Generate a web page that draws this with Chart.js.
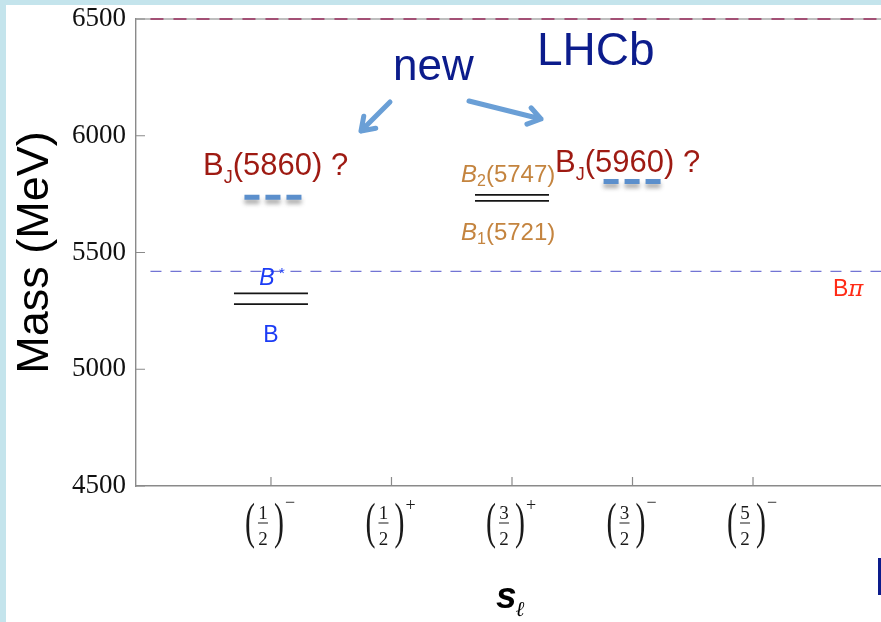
<!DOCTYPE html>
<html>
<head>
<meta charset="utf-8">
<script src="https://cdn.jsdelivr.net/npm/chart.js@4.4.1/dist/chart.umd.min.js"></script>
<style>
  html, body { margin: 0; padding: 0; background: #fff; }
  #wrap { width: 881px; height: 622px; }
</style>
</head>
<body>
<div id="wrap"><canvas id="levels"></canvas></div>
<script>
// light-quark spin-parity columns
const spinPos = [1, 2, 3, 4, 5];
const spinNum = ["1", "1", "3", "3", "5"];
const spinDen = ["2", "2", "2", "2", "2"];
const spinParity = ["−", "+", "+", "−", "−"];

// established B levels (MeV)
const levelNames = ["B", "B*", "B1(5721)", "B2(5747)"];
const levelPos = [1, 1, 3, 3];
const levelMass = [5279, 5325, 5721, 5747];

// new candidate states, shown as dashes
const newNames = ["BJ(5860)", "BJ(5960)"];
const newPos = [1.02, 4];
const newMass = [5737, 5804];

// thresholds (MeV)
const bpiMass = 5419;
const topMass = 6500;

const massMin = 4500;
const massMax = 6500;
const massStep = 500;

const LEVEL_HALF = 0.307;
const NEW_HALF = 0.24;
const X_MIN = -0.12;
const X_MAX = 6.062;

function segment(x0, x1, y) {
  return [{ x: x0, y: y }, { x: x1, y: y }];
}

const datasets = [];

levelMass.forEach((m, i) => {
  datasets.push({
    label: levelNames[i],
    data: segment(levelPos[i] - LEVEL_HALF, levelPos[i] + LEVEL_HALF, m),
    borderColor: "#151515",
    borderWidth: 1.6
  });
});

newMass.forEach((m, i) => {
  datasets.push({
    label: newNames[i],
    data: segment(newPos[i] - NEW_HALF, newPos[i] + NEW_HALF, m),
    borderColor: "#5b8fcc",
    borderWidth: 5,
    borderDash: [15, 6],
    shadow: true
  });
});

datasets.push({
  label: "Bπ",
  data: segment(0, X_MAX, bpiMass),
  borderColor: "#7274d4",
  borderWidth: 1.3,
  borderDash: [11, 9]
});

datasets.push({
  label: "top",
  data: segment(0, X_MAX, topMass),
  borderColor: "#9b2c5e",
  borderWidth: 1.6,
  borderDash: [13, 10]
});

datasets.forEach(d => {
  d.showLine = true;
  d.pointRadius = 0;
  d.clip = false;
});

// soft drop shadow under the dashed candidate levels
const dashShadow = {
  id: "dashShadow",
  beforeDatasetDraw(chart, args) {
    if (!chart.data.datasets[args.index].shadow) return;
    const ctx = chart.ctx;
    ctx.save();
    ctx.shadowColor = "rgba(60,60,60,0.45)";
    ctx.shadowBlur = 4;
    ctx.shadowOffsetY = 4;
  },
  afterDatasetDraw(chart, args) {
    if (!chart.data.datasets[args.index].shadow) return;
    chart.ctx.restore();
  }
};

function richText(ctx, parts, x, y, color) {
  ctx.fillStyle = color;
  ctx.textAlign = "left";
  ctx.textBaseline = "alphabetic";
  let cx = x;
  parts.forEach(p => {
    ctx.font = p.font;
    ctx.fillText(p.text, cx, y + (p.dy || 0));
    cx += ctx.measureText(p.text).width + (p.gap || 0);
  });
}

function arrow(ctx, x0, y0, x1, y1) {
  const a = Math.atan2(y1 - y0, x1 - x0);
  const len = 15;
  ctx.save();
  ctx.strokeStyle = "#6a9fd6";
  ctx.lineWidth = 5;
  ctx.lineCap = "round";
  ctx.lineJoin = "round";
  ctx.beginPath();
  ctx.moveTo(x0, y0);
  ctx.lineTo(x1, y1);
  ctx.moveTo(x1 - len * Math.cos(a - 0.6), y1 - len * Math.sin(a - 0.6));
  ctx.lineTo(x1, y1);
  ctx.lineTo(x1 - len * Math.cos(a + 0.6), y1 - len * Math.sin(a + 0.6));
  ctx.stroke();
  ctx.restore();
}

const decorations = {
  id: "decorations",
  beforeDraw(chart) {
    const ctx = chart.ctx;
    ctx.save();
    ctx.fillStyle = "#c4e4ec";
    ctx.fillRect(0, 0, chart.width, chart.height);
    ctx.fillStyle = "#ffffff";
    ctx.fillRect(6, 5, chart.width - 6, chart.height - 5);
    ctx.restore();
  },
  beforeDatasetsDraw(chart) {
    const ctx = chart.ctx;
    const area = chart.chartArea;
    ctx.save();
    ctx.strokeStyle = "#a8a8a8";
    ctx.lineWidth = 1.4;
    ctx.beginPath();
    ctx.moveTo(area.left, area.top);
    ctx.lineTo(area.right, area.top);
    ctx.stroke();
    ctx.restore();
  },
  afterDraw(chart) {
    const ctx = chart.ctx;
    const xs = chart.scales.x;
    const ys = chart.scales.y;
    const area = chart.chartArea;
    ctx.save();

    // inward ticks
    ctx.strokeStyle = "#8a8a8a";
    ctx.lineWidth = 1.2;
    ctx.beginPath();
    ys.ticks.forEach(t => {
      const py = ys.getPixelForValue(t.value);
      ctx.moveTo(area.left, py);
      ctx.lineTo(area.left + 9, py);
    });
    spinPos.forEach(v => {
      const px = xs.getPixelForValue(v);
      ctx.moveTo(px, area.bottom);
      ctx.lineTo(px, area.bottom - 9);
    });
    ctx.stroke();

    // spin-parity tick labels
    spinPos.forEach((v, i) => {
      const px = xs.getPixelForValue(v);
      const fx = px - 8;
      ctx.fillStyle = "#1a1a1a";
      ctx.textAlign = "center";
      ctx.textBaseline = "alphabetic";
      ctx.font = "19px 'Liberation Serif'";
      ctx.fillText(spinNum[i], fx, 519);
      ctx.fillText(spinDen[i], fx, 545);
      ctx.fillRect(fx - 5, 522.5, 10, 1);
      ctx.save();
      ctx.font = "50px 'Liberation Serif'";
      ctx.translate(px - 21, 538);
      ctx.scale(0.6, 1);
      ctx.fillText("(", 0, 0);
      ctx.restore();
      ctx.save();
      ctx.font = "50px 'Liberation Serif'";
      ctx.translate(px + 8, 538);
      ctx.scale(0.6, 1);
      ctx.fillText(")", 0, 0);
      ctx.restore();
      ctx.font = "18px 'Liberation Serif'";
      ctx.fillText(spinParity[i], px + 19, spinParity[i] === "+" ? 511 : 508);
    });

    // x axis title
    richText(ctx, [
      { text: "s", font: "italic bold 37px 'Liberation Sans'", gap: -1 },
      { text: "ℓ", font: "italic 21px 'DejaVu Serif'", dy: 8 }
    ], 496, 608, "#000");

    // level labels
    const bx = xs.getPixelForValue(levelPos[0]);
    ctx.fillStyle = "#1c3cf5";
    ctx.textAlign = "center";
    ctx.font = "italic 23px 'Liberation Sans'";
    ctx.fillText("B", bx - 4, ys.getPixelForValue(levelMass[1]) - 8);
    ctx.font = "15px 'Liberation Sans'";
    ctx.fillText("*", bx + 11, ys.getPixelForValue(levelMass[1]) - 15);
    ctx.font = "23px 'Liberation Sans'";
    ctx.fillText("B", bx, ys.getPixelForValue(levelMass[0]) + 38);

    const b3 = xs.getPixelForValue(levelPos[3]);
    richText(ctx, [
      { text: "B", font: "italic 24px 'Liberation Sans'" },
      { text: "2", font: "16px 'Liberation Sans'", dy: 4 },
      { text: "(5747)", font: "24px 'Liberation Sans'" }
    ], b3 - 51, ys.getPixelForValue(levelMass[3]) - 13, "#c4843f");
    richText(ctx, [
      { text: "B", font: "italic 24px 'Liberation Sans'" },
      { text: "1", font: "16px 'Liberation Sans'", dy: 4 },
      { text: "(5721)", font: "24px 'Liberation Sans'" }
    ], b3 - 51, ys.getPixelForValue(levelMass[2]) + 39, "#c4843f");

    // Bπ threshold label
    richText(ctx, [
      { text: "B", font: "23px 'Liberation Sans'" },
      { text: "π", font: "italic 23px 'DejaVu Serif'" }
    ], 833, ys.getPixelForValue(bpiMass) + 25, "#ff2b16");

    // candidate labels
    const bj = [
      { x: 203, y: ys.getPixelForValue(newMass[0]) - 22, m: "(5860) ?" },
      { x: 555, y: ys.getPixelForValue(newMass[1]) - 10, m: "(5960) ?" }
    ];
    bj.forEach(b => {
      richText(ctx, [
        { text: "B", font: "31px 'Liberation Sans'" },
        { text: "J", font: "18px 'Liberation Sans'", dy: 8 },
        { text: b.m, font: "31px 'Liberation Sans'" }
      ], b.x, b.y, "#9e1a12");
    });

    // annotation
    richText(ctx, [{ text: "new", font: "44px 'Liberation Sans'" }], 393, 80, "#0c1c8c");
    richText(ctx, [{ text: "LHCb", font: "46px 'Liberation Sans'" }], 537, 65, "#0c1c8c");
    arrow(ctx, 390, 102, 361, 131);
    arrow(ctx, 469, 101, 541, 119);

    ctx.fillStyle = "#0c1c8c";
    ctx.fillRect(878, 558, 3, 37);
    ctx.restore();
  }
};

new Chart(document.getElementById("levels"), {
  type: "scatter",
  data: { datasets: datasets },
  options: {
    responsive: true,
    maintainAspectRatio: false,
    animation: false,
    layout: { padding: { top: 19, left: 0, right: 0, bottom: 0 } },
    plugins: {
      legend: { display: false },
      tooltip: { enabled: false }
    },
    scales: {
      x: {
        type: "linear",
        min: X_MIN,
        max: X_MAX,
        grid: { display: false },
        border: { color: "#8a8a8a", width: 1.4 },
        ticks: { display: false },
        afterFit(scale) {
          scale.height = 136;
          scale.paddingLeft = 0;
          scale.paddingRight = 0;
        }
      },
      y: {
        min: massMin,
        max: massMax,
        grid: { display: false, drawTicks: false },
        border: { color: "#8a8a8a", width: 1.4 },
        ticks: {
          stepSize: massStep,
          padding: 10,
          color: "#111",
          font: { family: "'Liberation Serif'", size: 27 },
          callback: v => String(v)
        },
        title: {
          display: true,
          text: "Mass (MeV)",
          color: "#000",
          font: { family: "'Liberation Sans'", size: 45 },
          padding: { top: 9, bottom: 0 }
        },
        afterFit(scale) {
          scale.width = 136;
          scale.paddingTop = 0;
          scale.paddingBottom = 0;
        }
      }
    }
  },
  plugins: [dashShadow, decorations]
});
</script>
</body>
</html>
